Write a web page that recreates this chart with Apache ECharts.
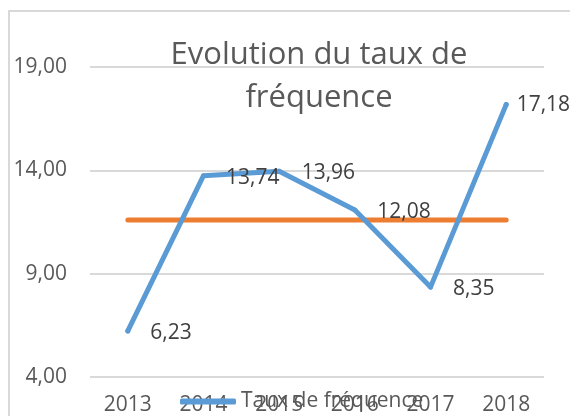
<!DOCTYPE html>
<html>
<head>
<meta charset="utf-8">
<script src="https://cdn.jsdelivr.net/npm/echarts@6/dist/echarts.min.js"></script>
<style>
  html, body { margin: 0; padding: 0; background: #fff; }
  #chart { width: 570px; height: 416px; }
  .frame { position: absolute; left: 8px; top: 10px; width: 580px; height: 420px;
           border-left: 2px solid #d9d9d9; border-top: 2px solid #d9d9d9; }
</style>
</head>
<body>
<div class="frame"></div>
<div id="chart" style="position:absolute;left:0;top:0;"></div>
<script>
// données
var annees = ["2013", "2014", "2015", "2016", "2017", "2018"];
var tauxFrequence = [6.23, 13.74, 13.96, 12.08, 8.35, 17.18];
var moyenne = [11.6, 11.6, 11.6, 11.6, 11.6, 11.6];
var titre = "Evolution du taux de\nfréquence";

var chart = echarts.init(document.getElementById("chart"));

function virgule(v) {
  return v.toFixed(2).replace(".", ",");
}

var police = "Open Sans";

// la dernière étiquette est rapprochée du point (bord droit)
var donneesTaux = tauxFrequence.map(function (v, i) {
  if (i == tauxFrequence.length - 1) {
    return { value: v, label: { distance: 8, offset: [0, 0] } };
  }
  return v;
});

var option = {
  animation: false,
  textStyle: { fontFamily: police },
  title: {
    text: titre,
    left: 314,
    top: 29,
    textAlign: "center",
    textStyle: { fontFamily: police, fontSize: 31, fontWeight: "normal", color: "#595959", lineHeight: 43 }
  },
  legend: {
    data: ["Taux de fréquence"],
    left: 175,
    top: 386,
    itemWidth: 56,
    itemHeight: 6,
    itemGap: 3,
    icon: "roundRect",
    textStyle: { fontSize: 21, color: "#595959", fontFamily: police }
  },
  grid: { left: 90, right: 26, top: 67, bottom: 39 },
  xAxis: {
    type: "category",
    data: annees,
    axisLine: { show: false },
    axisTick: { show: false },
    axisLabel: { fontSize: 21, color: "#595959", margin: 18 }
  },
  yAxis: {
    type: "value",
    min: 4,
    max: 19,
    interval: 5,
    axisLine: { show: false },
    axisTick: { show: false },
    splitLine: { lineStyle: { color: "#d9d9d9", width: 2 } },
    axisLabel: { fontSize: 21, color: "#595959", margin: 23, formatter: virgule }
  },
  series: [
    {
      name: "Moyenne",
      type: "line",
      data: moyenne,
      symbol: "none",
      lineStyle: { color: "#ed7d31", width: 5, cap: "round" },
      z: 1
    },
    {
      name: "Taux de fréquence",
      type: "line",
      data: donneesTaux,
      symbol: "circle",
      symbolSize: 5,
      itemStyle: { color: "#5b9bd5" },
      lineStyle: { color: "#5b9bd5", width: 5, cap: "round", join: "round" },
      label: {
        show: true,
        position: "right",
        distance: 20,
        offset: [0, 2],
        fontSize: 21,
        color: "#404040",
        formatter: function (p) { return virgule(p.value); }
      },
      z: 2
    }
  ]
};

chart.setOption(option);
</script>
</body>
</html>
